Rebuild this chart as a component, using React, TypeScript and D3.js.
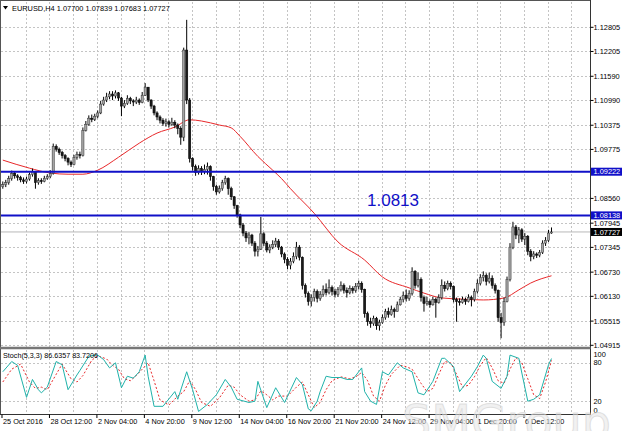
import * as d3 from "d3";

// EURUSD H4 bars, open = previous close
const firstOpen = 1.0885;
const closes = [
  1.089, 1.0895, 1.0905, 1.0918, 1.0912, 1.0908, 1.0902, 1.0898, 1.0904, 1.0915,
  1.0922, 1.0895, 1.09, 1.0898, 1.0906, 1.091, 1.0918, 1.0985, 1.0978, 1.097,
  1.0962, 1.0955, 1.0946, 1.094, 1.0958, 1.0965, 1.0962, 1.1025, 1.104, 1.1055,
  1.1052, 1.106, 1.1068, 1.109, 1.11, 1.1108, 1.1115, 1.111, 1.1118, 1.1105,
  1.1085, 1.1092, 1.1104, 1.1098, 1.1095, 1.11, 1.1094, 1.1112, 1.1132, 1.11,
  1.1085, 1.1068, 1.1058, 1.105, 1.1042, 1.1046, 1.104, 1.1045, 1.1038, 1.103,
  1.1008, 1.1224, 1.11, 1.0955, 1.0935, 1.092, 1.093, 1.0922, 1.0928, 1.0935,
  1.091, 1.0885, 1.0872, 1.088, 1.0895, 1.0905, 1.088, 1.086, 1.0838, 1.0815,
  1.079, 1.077, 1.0758, 1.0765, 1.0745, 1.0725, 1.073, 1.0768, 1.0745, 1.0728,
  1.0735, 1.0742, 1.075, 1.0735, 1.0718, 1.0705, 1.069, 1.07, 1.0712, 1.0735,
  1.071, 1.064, 1.062, 1.06, 1.061, 1.0625, 1.0608, 1.0618, 1.063, 1.0622,
  1.0635, 1.0625, 1.0618, 1.063, 1.064, 1.0628, 1.0622, 1.0632, 1.0628, 1.0638,
  1.0645, 1.063, 1.057, 1.055, 1.0545, 1.0558, 1.054, 1.0548, 1.056, 1.0575,
  1.0568, 1.058, 1.0575, 1.0592, 1.0605, 1.0615, 1.0608, 1.062, 1.0675, 1.064,
  1.0655, 1.061, 1.0595, 1.06, 1.0592, 1.0605, 1.0598, 1.061, 1.064, 1.0632,
  1.0645, 1.0638, 1.0605, 1.06, 1.0598, 1.0605, 1.06, 1.061, 1.0605, 1.0625,
  1.0645, 1.066, 1.0665, 1.065, 1.0658, 1.064, 1.0628, 1.056, 1.0548, 1.06,
  1.0655, 1.0735, 1.0785, 1.0765, 1.0778, 1.0755, 1.0762, 1.0725, 1.0712, 1.0718,
  1.0715, 1.0722, 1.0745, 1.0752, 1.077, 1.07727,
];
const highs = [
  1.0898, 1.0902, 1.0912, 1.0925, 1.0924, 1.0916, 1.0912, 1.0908, 1.091, 1.092,
  1.093, 1.0924, 1.0906, 1.0906, 1.0912, 1.0916, 1.0926, 1.0992, 1.099, 1.0982,
  1.0974, 1.0966, 1.0958, 1.095, 1.0964, 1.0972, 1.0972, 1.1032, 1.1048, 1.1062,
  1.1064, 1.1066, 1.1074, 1.1098, 1.1108, 1.1118, 1.1122, 1.1122, 1.1124, 1.112,
  1.1108, 1.11, 1.1112, 1.1108, 1.1102, 1.1108, 1.1104, 1.112, 1.1142, 1.1132,
  1.1102, 1.1088, 1.1072, 1.1062, 1.1055, 1.1054, 1.105, 1.1056, 1.105, 1.1042,
  1.1035, 1.123, 1.1299, 1.1105, 1.0958, 1.094, 1.0938, 1.0936, 1.094, 1.0945,
  1.0938, 1.0912, 1.089, 1.0888, 1.0902, 1.0912, 1.0908, 1.0885, 1.0862, 1.084,
  1.0818, 1.0795, 1.0775, 1.0772, 1.0768, 1.075, 1.0738, 1.081, 1.0772, 1.075,
  1.0742, 1.0752, 1.0758, 1.0755, 1.0738, 1.0722, 1.071, 1.0708, 1.0722, 1.0748,
  1.074, 1.0712, 1.0645, 1.0625, 1.0618, 1.0632, 1.063, 1.0626, 1.064, 1.0645,
  1.0655, 1.064, 1.0632, 1.0636, 1.065, 1.0645, 1.0635, 1.064, 1.0638, 1.0646,
  1.0652, 1.065, 1.0632, 1.0575, 1.056, 1.0565, 1.0562, 1.0555, 1.0568, 1.0582,
  1.0585, 1.059, 1.0585, 1.06, 1.0612, 1.0625, 1.063, 1.0628, 1.0685, 1.0678,
  1.0672, 1.066, 1.0615, 1.0612, 1.0605, 1.0612, 1.061, 1.0618, 1.0655, 1.065,
  1.0652, 1.065, 1.064, 1.061, 1.0608, 1.0612, 1.061, 1.0618, 1.0615, 1.0632,
  1.0655, 1.0668, 1.0675, 1.067, 1.0672, 1.0665, 1.0645, 1.063, 1.0572, 1.061,
  1.0662, 1.0745, 1.0798, 1.079, 1.0785, 1.0782, 1.077, 1.0765, 1.073, 1.0725,
  1.0722, 1.0728, 1.0752, 1.076, 1.0778, 1.07839,
];
const lows = [
  1.088, 1.0884, 1.089, 1.09, 1.0905, 1.09, 1.0896, 1.0892, 1.0893, 1.09,
  1.091, 1.088, 1.089, 1.0892, 1.0896, 1.0902, 1.0906, 1.0915, 1.0972, 1.0964,
  1.0955, 1.0948, 1.0938, 1.0934, 1.0938, 1.0952, 1.0955, 1.096, 1.1022, 1.1036,
  1.1045, 1.1048, 1.1055, 1.1065, 1.1086, 1.1095, 1.1102, 1.11, 1.1104, 1.1098,
  1.106, 1.108, 1.1088, 1.109, 1.1085, 1.109, 1.1088, 1.1092, 1.111, 1.1095,
  1.1078, 1.1062, 1.105, 1.1042, 1.1036, 1.1034, 1.1032, 1.1036, 1.103, 1.1015,
  1.0989, 1.0998, 1.109, 1.0945, 1.0925, 1.0912, 1.0915, 1.0914, 1.0916, 1.0915,
  1.09, 1.0875, 1.0865, 1.0868, 1.0875, 1.089, 1.0865, 1.0852, 1.083, 1.0808,
  1.0782, 1.0762, 1.0748, 1.0742, 1.0738, 1.0712, 1.0712, 1.0728, 1.0738, 1.0722,
  1.072, 1.073, 1.0735, 1.0728, 1.071, 1.0695, 1.068, 1.068, 1.0695, 1.0705,
  1.0702, 1.063, 1.061, 1.059, 1.0588, 1.06, 1.0598, 1.0602, 1.0612, 1.0615,
  1.0618, 1.0615, 1.061, 1.0612, 1.0625, 1.062, 1.061, 1.0618, 1.062, 1.0622,
  1.063, 1.0622, 1.056, 1.054, 1.0535, 1.054, 1.053, 1.0528, 1.0545, 1.0555,
  1.056, 1.0565, 1.056, 1.0575, 1.059, 1.0598, 1.06, 1.0602, 1.0615, 1.0632,
  1.0635, 1.06, 1.0575, 1.059, 1.0585, 1.059, 1.056, 1.0595, 1.0605, 1.0625,
  1.0628, 1.063, 1.0598, 1.055, 1.059, 1.0595, 1.0592, 1.0598, 1.0588, 1.06,
  1.062, 1.064, 1.065, 1.064, 1.0645, 1.0632, 1.062, 1.055, 1.0509, 1.054,
  1.0598, 1.065, 1.073, 1.0755, 1.0745, 1.0748, 1.074, 1.0715, 1.07, 1.0705,
  1.0708, 1.071, 1.0718, 1.0738, 1.0748, 1.07683,
];

// moving average, read at sample bars
const maBars = [0, 9, 16, 22, 27, 32, 39, 46, 52, 58, 63, 67, 73, 77, 80, 86, 91, 94, 97, 105, 113, 122, 128, 137, 142, 148, 155, 162, 169, 174, 178, 185];
const maValues = [1.0951, 1.0931, 1.0919, 1.0916, 1.0916, 1.0926, 1.0958, 1.0993, 1.1018, 1.1033, 1.1051, 1.1048, 1.1038, 1.1031, 1.101, 1.096, 1.0926, 1.0905, 1.088, 1.0819, 1.0748, 1.0703, 1.0661, 1.0634, 1.0621, 1.0609, 1.0606, 1.0604, 1.0609, 1.0629, 1.0646, 1.0664];

// Stochastic(5,3,3)
const stochBars = [0, 3, 5, 8, 10, 12, 13, 15, 18, 20, 22, 25, 26, 29, 31, 32, 34, 36, 38, 40, 42, 44, 46, 48, 49, 51, 54, 58, 59, 62, 64, 66, 69, 72, 75, 77, 79, 83, 85, 86, 89, 92, 95, 99, 101, 103, 104, 106, 107, 109, 111, 114, 116, 118, 121, 122, 124, 126, 128, 130, 133, 135, 138, 140, 142, 145, 148, 149, 152, 154, 158, 160, 162, 163, 165, 168, 170, 171, 174, 175, 177, 179, 181, 184, 185];
const stochMain = [66, 82, 76, 26, 54, 38, 33, 42, 82, 77, 38, 61, 68, 90, 92, 92, 85, 72, 80, 41, 59, 56, 66, 92, 59, 12, 12, 35, 23, 66, 38, 4, 15, 30, 54, 42, 23, 18, 20, 51, 10, 41, 18, 57, 46, 8, 5, 20, 35, 59, 57, 57, 54, 54, 72, 35, 20, 15, 66, 61, 80, 72, 66, 33, 30, 51, 87, 87, 74, 35, 59, 74, 92, 87, 51, 40, 59, 92, 87, 64, 20, 23, 30, 77, 86.6357];
const signalBars = [0, 3, 6, 9, 11, 13, 15, 18, 20, 23, 25, 27, 30, 32, 35, 37, 39, 41, 43, 45, 47, 49, 51, 53, 56, 59, 61, 63, 65, 67, 70, 73, 76, 78, 80, 83, 85, 87, 89, 91, 93, 96, 99, 101, 103, 105, 107, 109, 111, 114, 117, 119, 121, 123, 125, 127, 129, 131, 134, 136, 138, 141, 143, 145, 147, 149, 151, 153, 155, 157, 159, 161, 163, 165, 167, 169, 171, 173, 175, 177, 179, 181, 183, 185];
const signalValues = [50, 70, 78, 50, 40, 42, 38, 62, 78, 55, 50, 60, 84, 91, 86, 76, 70, 55, 52, 60, 70, 80, 52, 22, 14, 28, 35, 52, 38, 18, 12, 25, 45, 42, 30, 20, 22, 36, 30, 22, 28, 28, 42, 50, 30, 10, 18, 38, 52, 58, 55, 58, 65, 52, 28, 20, 45, 62, 76, 74, 70, 48, 35, 40, 62, 82, 80, 62, 42, 45, 58, 76, 88, 72, 52, 48, 70, 88, 80, 55, 30, 24, 50, 83.7206];

const priceTicks = [1.12805, 1.12205, 1.1159, 1.1099, 1.10375, 1.09775, 1.0856, 1.07945, 1.07345, 1.0673, 1.0613, 1.05515, 1.04915];
const levels = [1.09222, 1.08138];
const bid = 1.07727;
const levelNote = "1.0813";
const stochLevels = [20, 80];
const stochLabels = [100, 80, 20, 0];
const timeLabels = ["25 Oct 2016", "28 Oct 12:00", "2 Nov 04:00", "4 Nov 20:00", "9 Nov 12:00", "14 Nov 04:00", "16 Nov 20:00", "21 Nov 20:00", "24 Nov 12:00", "29 Nov 04:00", "1 Dec 20:00", "6 Dec 12:00"];
const timeLabelBars = [0, 16, 32, 48, 64, 80, 96, 112, 128, 144, 160, 176];

const W = 623;
const H = 431;
const right = 590.5;
const font = "'Liberation Sans', Arial, sans-serif";
const blue = "#1010c8";

export default function App() {
  const x = d3.scaleLinear().domain([0, 185]).range([2.8, 2.8 + 185 * 2.966]);
  const y = d3.scaleLinear().domain([1.04915, 1.12805]).range([345.3, 27.3]);
  const s = d3.scaleLinear().domain([0, 100]).range([414, 350]);
  const fmt = d3.format(".5f");

  const maLine = d3
    .line<number>()
    .x((_, i) => x(maBars[i]))
    .y((d) => y(d))
    .curve(d3.curveMonotoneX);
  const mainLine = d3
    .line<number>()
    .x((_, i) => x(stochBars[i]))
    .y((d) => s(d));
  const sigLine = d3
    .line<number>()
    .x((_, i) => x(signalBars[i]))
    .y((d) => s(d));

  const gridX = d3.range(1, 25).map((k) => x(k * 8) - 0.8);

  return (
    <svg
      width={W}
      height={H}
      style={{ position: "absolute", left: 0, top: 0, background: "#fff" }}
      fontFamily={font}
    >
      <rect width={W} height={H} fill="#fff" />
      {/* grid */}
      <g stroke="#c4c4c4" strokeDasharray="2,2" strokeWidth={1}>
        {priceTicks.map((p) => (
          <line key={p} x1={1} x2={right} y1={Math.round(y(p)) + 0.5} y2={Math.round(y(p)) + 0.5} />
        ))}
        {stochLevels.map((v) => (
          <line key={v} x1={1} x2={right} y1={Math.round(s(v)) + 0.5} y2={Math.round(s(v)) + 0.5} />
        ))}
        {gridX.map((gx, k) => (
          <g key={k}>
            <line x1={Math.round(gx) + 0.5} x2={Math.round(gx) + 0.5} y1={2} y2={347} />
            <line x1={Math.round(gx) + 0.5} x2={Math.round(gx) + 0.5} y1={350} y2={414} />
          </g>
        ))}
      </g>

      {/* bid line */}
      <line x1={1} x2={right} y1={y(bid)} y2={y(bid)} stroke="#b8b8b8" strokeWidth={1} />

      {/* moving average */}
      <path d={maLine(maValues) ?? ""} fill="none" stroke="#e8282a" strokeWidth={1} />

      {/* candles */}
      <g>
        {closes.map((c, i) => {
          const o = i === 0 ? firstOpen : closes[i - 1];
          const cx = x(i);
          const hi = Math.max(highs[i], o, c);
          const lo = Math.min(lows[i], o, c);
          const top = y(Math.max(o, c));
          const h = Math.max(1, y(Math.min(o, c)) - top);
          const bull = c >= o;
          return (
            <g key={i}>
              <line x1={cx} x2={cx} y1={y(hi)} y2={y(lo)} stroke="#000" strokeWidth={1} />
              <rect
                x={cx - 1.1}
                y={top}
                width={2.2}
                height={h}
                fill={bull ? "#a4a4a4" : "#1a1a1a"}
                stroke={bull ? "#333" : "#000"}
                strokeWidth={0.5}
              />
            </g>
          );
        })}
      </g>

      {/* horizontal levels */}
      {levels.map((p) => (
        <line key={p} x1={1} x2={right} y1={y(p)} y2={y(p)} stroke={blue} strokeWidth={2} />
      ))}
      <text x={393} y={206} textAnchor="middle" fontSize={17} fill={blue}>
        {levelNote}
      </text>

      {/* stochastic */}
      <path d={sigLine(signalValues) ?? ""} fill="none" stroke="#e8282a" strokeWidth={1} strokeDasharray="2,2" />
      <path d={mainLine(stochMain) ?? ""} fill="none" stroke="#20b2aa" strokeWidth={1} />

      {/* frames */}
      <line x1={0.5} x2={0.5} y1={0} y2={414.5} stroke="#555" />
      <line x1={0} x2={right} y1={0.5} y2={0.5} stroke="#555" />
      <line x1={right} x2={right} y1={0} y2={414.5} stroke="#333" />
      <line x1={0} x2={right} y1={348} y2={348} stroke="#777" strokeWidth={2.5} />
      <line x1={0} x2={right} y1={414.5} y2={414.5} stroke="#333" />

      {/* header */}
      <path d="M3,6 L8,6 L5.5,9.5 Z" fill="#000" />
      <text x={12} y={10.5} fontSize={7.4} fill="#000">
        {`EURUSD,H4  1.07700 1.07839 1.07683 ${fmt(bid)}`}
      </text>
      <text x={3} y={358} fontSize={7.2} fill="#000">
        {`Stoch(5,3,3) ${stochMain[stochMain.length - 1].toFixed(4)} ${signalValues[signalValues.length - 1].toFixed(4)}`}
      </text>

      {/* price axis */}
      <g fontSize={7.4} fill="#000">
        {priceTicks.map((p) => (
          <g key={p}>
            <line x1={right} x2={right + 3} y1={y(p)} y2={y(p)} stroke="#000" />
            <text x={593.5} y={y(p)} dy="0.36em">
              {fmt(p)}
            </text>
          </g>
        ))}
        {levels.map((p) => (
          <g key={p}>
            <rect x={591} y={y(p) - 4} width={31} height={8} fill={blue} />
            <text x={593.5} y={y(p)} dy="0.36em" fill="#fff">
              {fmt(p)}
            </text>
          </g>
        ))}
        <rect x={591} y={y(bid) - 4} width={31} height={8} fill="#000" />
        <text x={593.5} y={y(bid)} dy="0.36em" fill="#fff">
          {fmt(bid)}
        </text>
        {stochLabels.map((v) => (
          <text key={v} x={593.5} y={Math.min(410, Math.max(354, s(v)))} dy="0.36em">
            {v}
          </text>
        ))}
      </g>

      {/* time axis */}
      <g fontSize={7.3} fill="#000">
        {timeLabels.map((t, k) => {
          const tx = x(timeLabelBars[k]) - 0.8;
          return (
            <g key={t}>
              <line x1={tx} x2={tx} y1={414.5} y2={418} stroke="#000" />
              <text x={Math.max(2, tx + 1)} y={424}>
                {t}
              </text>
            </g>
          );
        })}
      </g>

      {/* watermark */}
      <text
        x={402}
        y={438}
        fontSize={46}
        fontFamily="'DejaVu Sans', sans-serif"
        fill="#e6e6e6"
        fillOpacity={0.55}
        stroke="#cfcfcf"
        strokeOpacity={0.6}
        strokeWidth={1}
      >
        SMGroup
      </text>
    </svg>
  );
}
